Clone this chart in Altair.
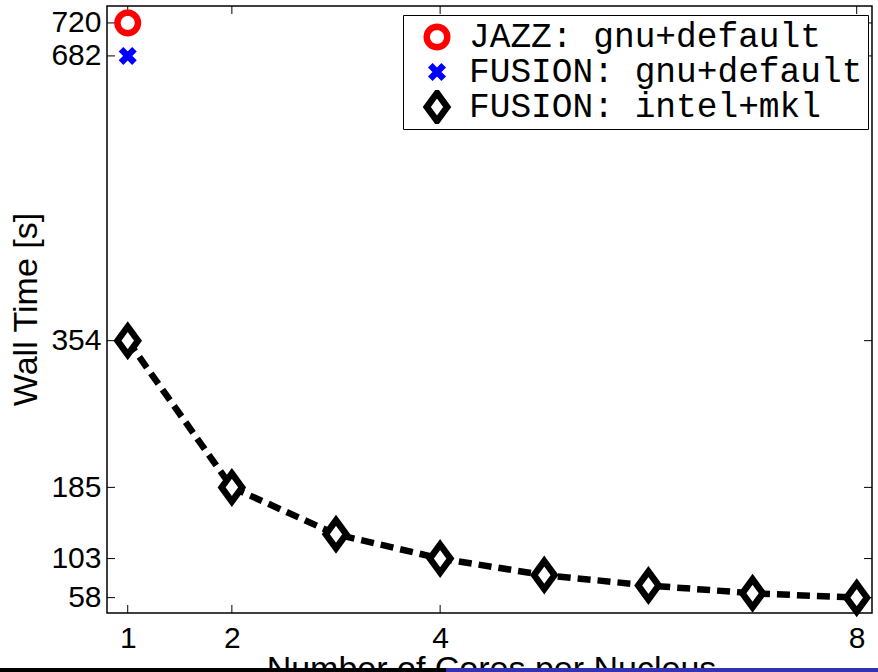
import altair as alt
import pandas as pd
import numpy as np

# ---- data ----
series_names = ["JAZZ: gnu+default", "FUSION: gnu+default", "FUSION: intel+mkl"]
jazz_cores = [1]
jazz_time = [720]
fusion_gnu_cores = [1]
fusion_gnu_time = [682]
intel_cores = [1, 2, 3, 4, 5, 6, 7, 8]
intel_time = [354, 185, 131, 103, 84, 72, 63, 58]
x_ticks = [1, 2, 4, 8]
y_ticks = [58, 103, 185, 354, 682, 720]

# ---- layout ----
W, H = 765, 607
PAD = {"left": 107, "top": 6, "right": 6, "bottom": 59}

x_scale = alt.Scale(domain=[0.801, 8.147], nice=False, zero=False)
y_scale = alt.Scale(domain=[40.3, 739.5], nice=False, zero=False)

x_axis = alt.Axis(values=x_ticks, title="Number of Cores per Nucleus", ticks=False,
                  domain=False, grid=False, labelPadding=10, labelFontSize=30,
                  labelFlush=False, labelOverlap=False, format="d",
                  titleFontSize=34, titleFontWeight="normal", titleX=384, titleY=66,
                  titleAlign="center", titleBaseline="alphabetic")
y_axis = alt.Axis(values=y_ticks, title="Wall Time [s]", ticks=False, domain=False,
                  grid=False, labelPadding=6, labelFontSize=30, labelOverlap=False,
                  format="d", titleFontSize=34, titleFontWeight="normal", titleX=-81,
                  titleY=303, titleAngle=270, titleAlign="center", titleBaseline="middle")

# symbol shapes (unit coordinates, scaled by sqrt(size)/2 = 8 px per unit)
SYM_SIZE = 256
ang = np.linspace(0, 2 * np.pi, 41)[:-1]
circle_path = "M" + "L".join(f"{1.28*np.cos(a):.4f},{1.28*np.sin(a):.4f}" for a in ang) + "Z"
x_path = "M-0.84,-0.84L0.84,0.84M0.84,-0.84L-0.84,0.84"
diamond_path = "M0,-1.75L1.28,0L0,1.75L-1.28,0Z"

pts = pd.DataFrame({
    "series": [series_names[0]] * len(jazz_cores) + [series_names[1]] * len(fusion_gnu_cores)
              + [series_names[2]] * len(intel_cores),
    "x": jazz_cores + fusion_gnu_cores + intel_cores,
    "y": jazz_time + fusion_gnu_time + intel_time,
})
intel_df = pd.DataFrame({"x": intel_cores, "y": intel_time})

legend = alt.Legend(title=None, orient="none", legendX=296, legendY=9, padding=5,
                    symbolOffset=11.75, labelOffset=14.75, rowPadding=0, clipHeight=34,
                    strokeColor="black", fillColor="white", labelFont="Liberation Mono",
                    labelFontSize=34.5, labelLimit=1000, labelColor="black",
                    symbolSize=SYM_SIZE, symbolStrokeWidth=6.5, cornerRadius=0)

X = alt.X("x:Q", scale=x_scale, axis=x_axis)
Y = alt.Y("y:Q", scale=y_scale, axis=y_axis)

line = alt.Chart(intel_df).mark_line(color="black", strokeWidth=6.5,
                                     strokeDash=[13, 7], strokeCap="butt").encode(x=X, y=Y)

points = alt.Chart(pts).mark_point(size=SYM_SIZE, strokeWidth=6.5, opacity=1).encode(
    x=X, y=Y,
    shape=alt.Shape("series:N", scale=alt.Scale(domain=series_names,
                    range=[circle_path, x_path, diamond_path]), legend=legend),
    fill=alt.Fill("series:N", scale=alt.Scale(domain=series_names,
                  range=["white", "blue", "white"]), legend=legend),
    stroke=alt.Stroke("series:N", scale=alt.Scale(domain=series_names,
                      range=["#ff0000", "#0000ff", "black"]), legend=legend),
)

xt = pd.DataFrame({"x": x_ticks})
yt = pd.DataFrame({"y": y_ticks})
xt_bottom = alt.Chart(xt).mark_rule(color="black", strokeWidth=1).encode(
    x=X, y=alt.value(H), y2=alt.value(H - 8))
xt_top = alt.Chart(xt).mark_rule(color="black", strokeWidth=1).encode(
    x=X, y=alt.value(0), y2=alt.value(8))
yt_left = alt.Chart(yt).mark_rule(color="black", strokeWidth=1).encode(
    y=Y, x=alt.value(0), x2=alt.value(8))
yt_right = alt.Chart(yt).mark_rule(color="black", strokeWidth=1).encode(
    y=Y, x=alt.value(W), x2=alt.value(W - 8))

# slide footer bar at the very bottom of the picture
dummy = pd.DataFrame({"a": [0]})
bar_black = alt.Chart(dummy).mark_rect(color="black").encode(
    x=alt.value(-107), x2=alt.value(339), y=alt.value(662), y2=alt.value(680))
bar_blue = alt.Chart(dummy).mark_rect(color="#3333b2").encode(
    x=alt.value(339), x2=alt.value(780), y=alt.value(662), y2=alt.value(680))

chart = alt.layer(xt_bottom, xt_top, yt_left, yt_right, line, points, bar_black, bar_blue).properties(
    width=W, height=H, padding=PAD, autosize=alt.AutoSizeParams(type="none"),
    background="white",
).configure_view(stroke="black", strokeWidth=1.5).configure_axis(
    labelFont="Liberation Sans", titleFont="Liberation Sans",
    labelColor="black", titleColor="black")

chart.save("out.html", embed_options={"renderer": "svg", "actions": False})
